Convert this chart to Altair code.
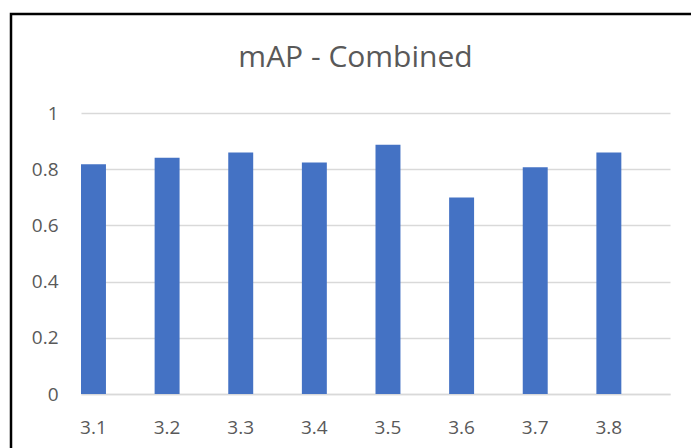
import altair as alt
import pandas as pd

# Model versions and their combined mAP scores
versions = ["3.1", "3.2", "3.3", "3.4", "3.5", "3.6", "3.7", "3.8"]
map_scores = [0.818, 0.841, 0.859, 0.824, 0.887, 0.699, 0.807, 0.859]

df = pd.DataFrame({"version": versions, "mAP": map_scores})

FONT = "Open Sans"
TEXT_GREY = "#595959"
GRID_GREY = "#D9D9D9"
BAR_BLUE = "#4472C4"

bars = alt.Chart(df).mark_bar(color=BAR_BLUE).encode(
    x=alt.X(
        "version:N",
        sort=versions,
        title=None,
        scale=alt.Scale(paddingInner=0.661, paddingOuter=0.3305, align=0),
        axis=alt.Axis(
            labelAngle=0,
            ticks=False,
            tickSize=0,
            grid=False,
            domain=True,
            domainColor=GRID_GREY,
            domainWidth=1.5,
            labelPadding=24,
            labelFontSize=19,
            labelColor=TEXT_GREY,
            labelFont=FONT,
        ),
    ),
    y=alt.Y(
        "mAP:Q",
        title=None,
        scale=alt.Scale(domain=[0, 1], nice=False),
        axis=alt.Axis(
            values=[0, 0.2, 0.4, 0.6, 0.8, 1],
            format="~g",
            ticks=False,
            tickSize=0,
            domain=False,
            grid=True,
            gridColor=GRID_GREY,
            gridWidth=1.5,
            labelPadding=23,
            labelFontSize=19,
            labelColor=TEXT_GREY,
            labelFont=FONT,
        ),
    ),
)

# Outer chart-area frame
frame = alt.Chart(alt.Data(values=[{"f": 1}])).mark_rect(
    fill="transparent", stroke="black", strokeWidth=2.5, clip=False
).encode(
    x=alt.value(-70),
    x2=alt.value(720),
    y=alt.value(-99),
    y2=alt.value(400),
)

# Chart title drawn as a text layer centred on the chart area
title = alt.Chart(alt.Data(values=[{"t": "mAP - Combined"}])).mark_text(
    font=FONT,
    fontSize=30,
    color=TEXT_GREY,
    align="center",
    baseline="alphabetic",
).encode(
    text="t:N",
    x=alt.value(274.5),
    y=alt.value(-46),
)

chart = alt.layer(frame, bars, title).properties(
    width=589,
    height=281,
    background="white",
    autosize=alt.AutoSizeParams(type="none"),
    padding={"left": 81, "top": 113, "right": 21, "bottom": 54},
).configure_view(strokeWidth=0, stroke="transparent")

chart.save("out.html", embed_options={"renderer": "svg", "actions": False})
